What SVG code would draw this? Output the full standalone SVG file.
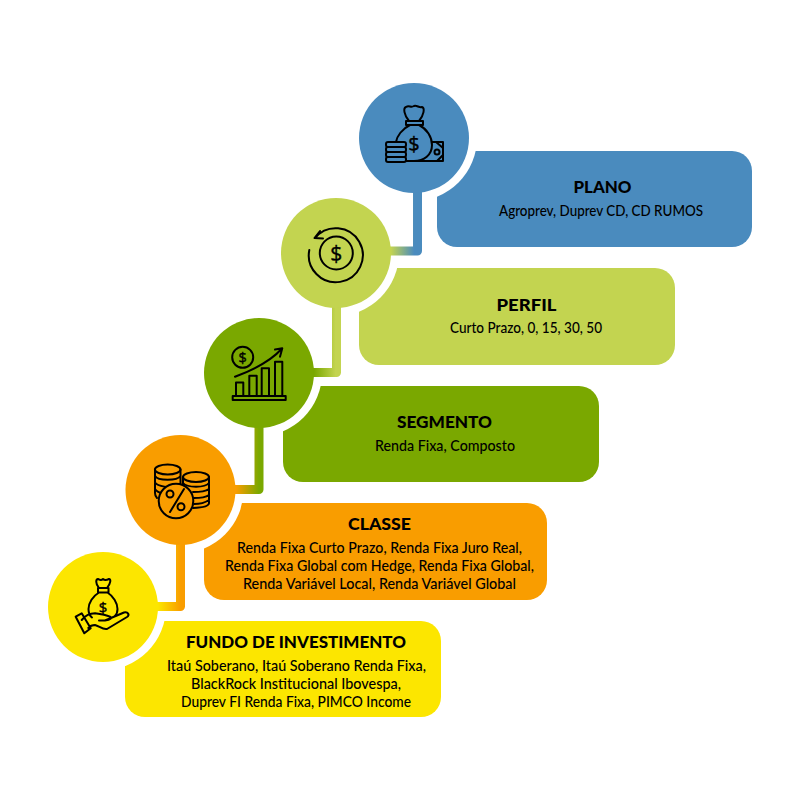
<svg xmlns="http://www.w3.org/2000/svg" width="800" height="800" viewBox="0 0 800 800">
<style>
text{font-family:"Lato","Noto Sans","Liberation Sans",sans-serif;fill:#000;text-anchor:middle}
.t{font-size:17.500px;font-weight:900}
.b{font-size:15px;font-weight:500}
.ring{fill:#fff}
.c{fill:none;stroke-width:9;stroke-linejoin:round;stroke-linecap:butt}
.i{fill:none;stroke:#000;stroke-width:2;stroke-linecap:round;stroke-linejoin:round}
.d{font-family:"Open Sans","Noto Sans",sans-serif;font-weight:400;stroke:#000;stroke-width:.4}
</style>
<defs>
<linearGradient id="g1" gradientUnits="userSpaceOnUse" x1="391" y1="0" x2="422" y2="0"><stop offset="0" stop-color="#c3d450"/><stop offset="0.75" stop-color="#4a8bbe"/></linearGradient>
<linearGradient id="g2" gradientUnits="userSpaceOnUse" x1="314" y1="0" x2="341" y2="0"><stop offset="0" stop-color="#7aa800"/><stop offset="0.8" stop-color="#c3d450"/></linearGradient>
<linearGradient id="g3" gradientUnits="userSpaceOnUse" x1="236" y1="0" x2="263" y2="0"><stop offset="0" stop-color="#f99d00"/><stop offset="0.85" stop-color="#7aa800"/></linearGradient>
<linearGradient id="g4" gradientUnits="userSpaceOnUse" x1="158" y1="0" x2="185" y2="0"><stop offset="0" stop-color="#fce600"/><stop offset="0.85" stop-color="#f99d00"/></linearGradient>
</defs>

<g id="cards">
<g id="card-plano"><rect x="437" y="151" width="315" height="96" rx="20" fill="#4a8bbe"/><circle class="ring" cx="414" cy="138" r="63"/></g>
<g id="card-perfil"><rect x="359" y="268" width="316" height="97" rx="20" fill="#c3d450"/><circle class="ring" cx="336" cy="253" r="63"/></g>
<g id="card-segmento"><rect x="283" y="386" width="316" height="96" rx="20" fill="#7aa800"/><circle class="ring" cx="259" cy="373" r="63"/></g>
<g id="card-classe"><rect x="204" y="503" width="343" height="97" rx="20" fill="#f99d00"/><circle class="ring" cx="180.500" cy="490" r="63"/></g>
<g id="card-fundo"><rect x="125" y="621" width="316" height="96" rx="20" fill="#fce600"/><circle class="ring" cx="103" cy="607" r="63"/></g>
</g>

<g id="connectors">
<path class="c" stroke="url(#g1)" d="M385,251H417.500V185"/>
<path class="c" stroke="url(#g2)" d="M308,372.500H336.500V303"/>
<path class="c" stroke="url(#g3)" d="M230,489.500H259V420"/>
<path class="c" stroke="url(#g4)" d="M152,606.500H180.500V540"/>
</g>

<g id="node-plano">
<circle cx="414" cy="138" r="55" fill="#4a8bbe"/>
<path class="i" d="M409,121C404,115 403,108 406,107C409,105 411,108 414,106C417,105 419,108 422,107C425,108 424,115 419,121M406,121H423V125H406ZM410,125C402,129 397,136 396,142M419,125C427,129 432,137 432,145C432,155 424,161 414,161H406"/>
<path class="i" d="M432,142H443V161H412M436,142L443,148M437,161L443,155"/>
<circle class="i" cx="437" cy="152" r="2.500"/>
<rect class="i" x="386" y="142" width="20" height="5" rx="2"/>
<rect class="i" x="386" y="147" width="20" height="5" rx="2"/>
<rect class="i" x="386" y="152" width="20" height="5" rx="2"/>
<rect class="i" x="386" y="157" width="20" height="5" rx="2"/>
<text class="d" x="414" y="150.500" font-size="20">$</text>
</g>

<g id="node-perfil">
<circle cx="336" cy="253" r="55" fill="#c3d450"/>
<path class="i" d="M315,238A27,27 0 1 1 309.300,250M320,231L314.500,238L323,238.500"/>
<circle class="i" cx="336.300" cy="253" r="16.500"/>
<text class="d" x="336.300" y="260.500" font-size="21">$</text>
</g>

<g id="node-segmento">
<circle cx="259" cy="373" r="55" fill="#7aa800"/>
<circle class="i" cx="242.700" cy="357.300" r="10.500"/>
<text class="d" x="242.700" y="362.500" font-size="14.500">$</text>
<path class="i" d="M235,376.700C253,370 270,362 282,348.500M275,349.500L282.300,348.300L280,356.700"/>
<path class="i" d="M236,396V382.500H243.300V396M249.300,396V375.700H256.700V396M261.700,396V368.300H269V396M275,396V361.700H282.300V396M232.700,396H285.700V400H232.700Z"/>
</g>

<g id="node-classe">
<circle cx="180.500" cy="490" r="55" fill="#f99d00"/>
<path class="i" d="M155,469.500V493C155,496 156,497 157,498M180.500,469.500V484M155,476C158,481 177,481 180.500,476M155,482.500C158,487 170,487.500 176,487M155,489C157,492 160,493 163,493.500"/>
<ellipse class="i" cx="167.700" cy="469.500" rx="12.800" ry="5"/>
<path class="i" d="M183,477V486M209,477V503C209,506 205,507.500 193,508M183,483C187,488 205,488 209,483M193,492C199,492 206,491 209,489M194,498C200,498 206,497 209,495M194,504C200,504 206,502 209,500"/>
<ellipse class="i" cx="196" cy="477" rx="13" ry="5"/>
<circle class="i" cx="176" cy="501" r="17.300" style="fill:#f99d00"/>
<path class="i" d="M184,489L170,512"/>
<circle class="i" cx="170" cy="494" r="3.500"/>
<circle class="i" cx="181" cy="506.700" r="3.500"/>
</g>

<g id="node-fundo">
<circle cx="103" cy="607" r="55" fill="#fce600"/>
<path class="i" d="M99,588C95,583 96,579 98,579C100,580 101,581 103,579C105,581 107,580 109,579C111,579 111,583 107,588M98,588H108.500V592.500H98ZM99,592.500C93,596 88.500,603 88.500,609C88.500,613 90,616 92,617.500M107.500,592.500C113,596 117.500,603 117.500,609C117.500,612 116,615 115,616"/>
<text class="d" x="103" y="612.500" font-size="15">$</text>
<path class="i" d="M75.700,616.700L81.700,613.300L90.700,628.300L84.300,633.300ZM81.700,620C85,616 90,613.300 95,613.300C100,614 106,615 110,616.700C112,618 111,620 105,620.500H99M105,620.500L124,612.500C128,611.500 130,615 127,617L107,629C103,630 99,626 95,625C92,625 90,626 88.300,628"/>
</g>

<g id="labels">
<text class="t" x="602.500" y="193" textLength="58" lengthAdjust="spacingAndGlyphs">PLANO</text>
<text class="b" x="601" y="216" textLength="204" lengthAdjust="spacingAndGlyphs">Agroprev, Duprev CD, CD RUMOS</text>
<text class="t" x="526.500" y="311" textLength="60" lengthAdjust="spacingAndGlyphs">PERFIL</text>
<text class="b" x="526" y="333" textLength="152" lengthAdjust="spacingAndGlyphs">Curto Prazo, 0, 15, 30, 50</text>
<text class="t" x="444.500" y="428" textLength="95" lengthAdjust="spacingAndGlyphs">SEGMENTO</text>
<text class="b" x="445" y="451" textLength="140" lengthAdjust="spacingAndGlyphs">Renda Fixa, Composto</text>
<text class="t" x="379.500" y="529.500" textLength="63" lengthAdjust="spacingAndGlyphs">CLASSE</text>
<text class="b" x="379.500" y="553" textLength="285" lengthAdjust="spacingAndGlyphs">Renda Fixa Curto Prazo, Renda Fixa Juro Real,</text>
<text class="b" x="379.500" y="571" textLength="309" lengthAdjust="spacingAndGlyphs">Renda Fixa Global com Hedge, Renda Fixa Global,</text>
<text class="b" x="379.500" y="589" textLength="273" lengthAdjust="spacingAndGlyphs">Renda Variável Local, Renda Variável Global</text>
<text class="t" x="296" y="648" textLength="220" lengthAdjust="spacingAndGlyphs">FUNDO DE INVESTIMENTO</text>
<text class="b" x="296.500" y="671" textLength="259" lengthAdjust="spacingAndGlyphs">Itaú Soberano, Itaú Soberano Renda Fixa,</text>
<text class="b" x="296" y="689" textLength="210" lengthAdjust="spacingAndGlyphs">BlackRock Institucional Ibovespa,</text>
<text class="b" x="296" y="707" textLength="230" lengthAdjust="spacingAndGlyphs">Duprev FI Renda Fixa, PIMCO Income</text>
</g>
</svg>
